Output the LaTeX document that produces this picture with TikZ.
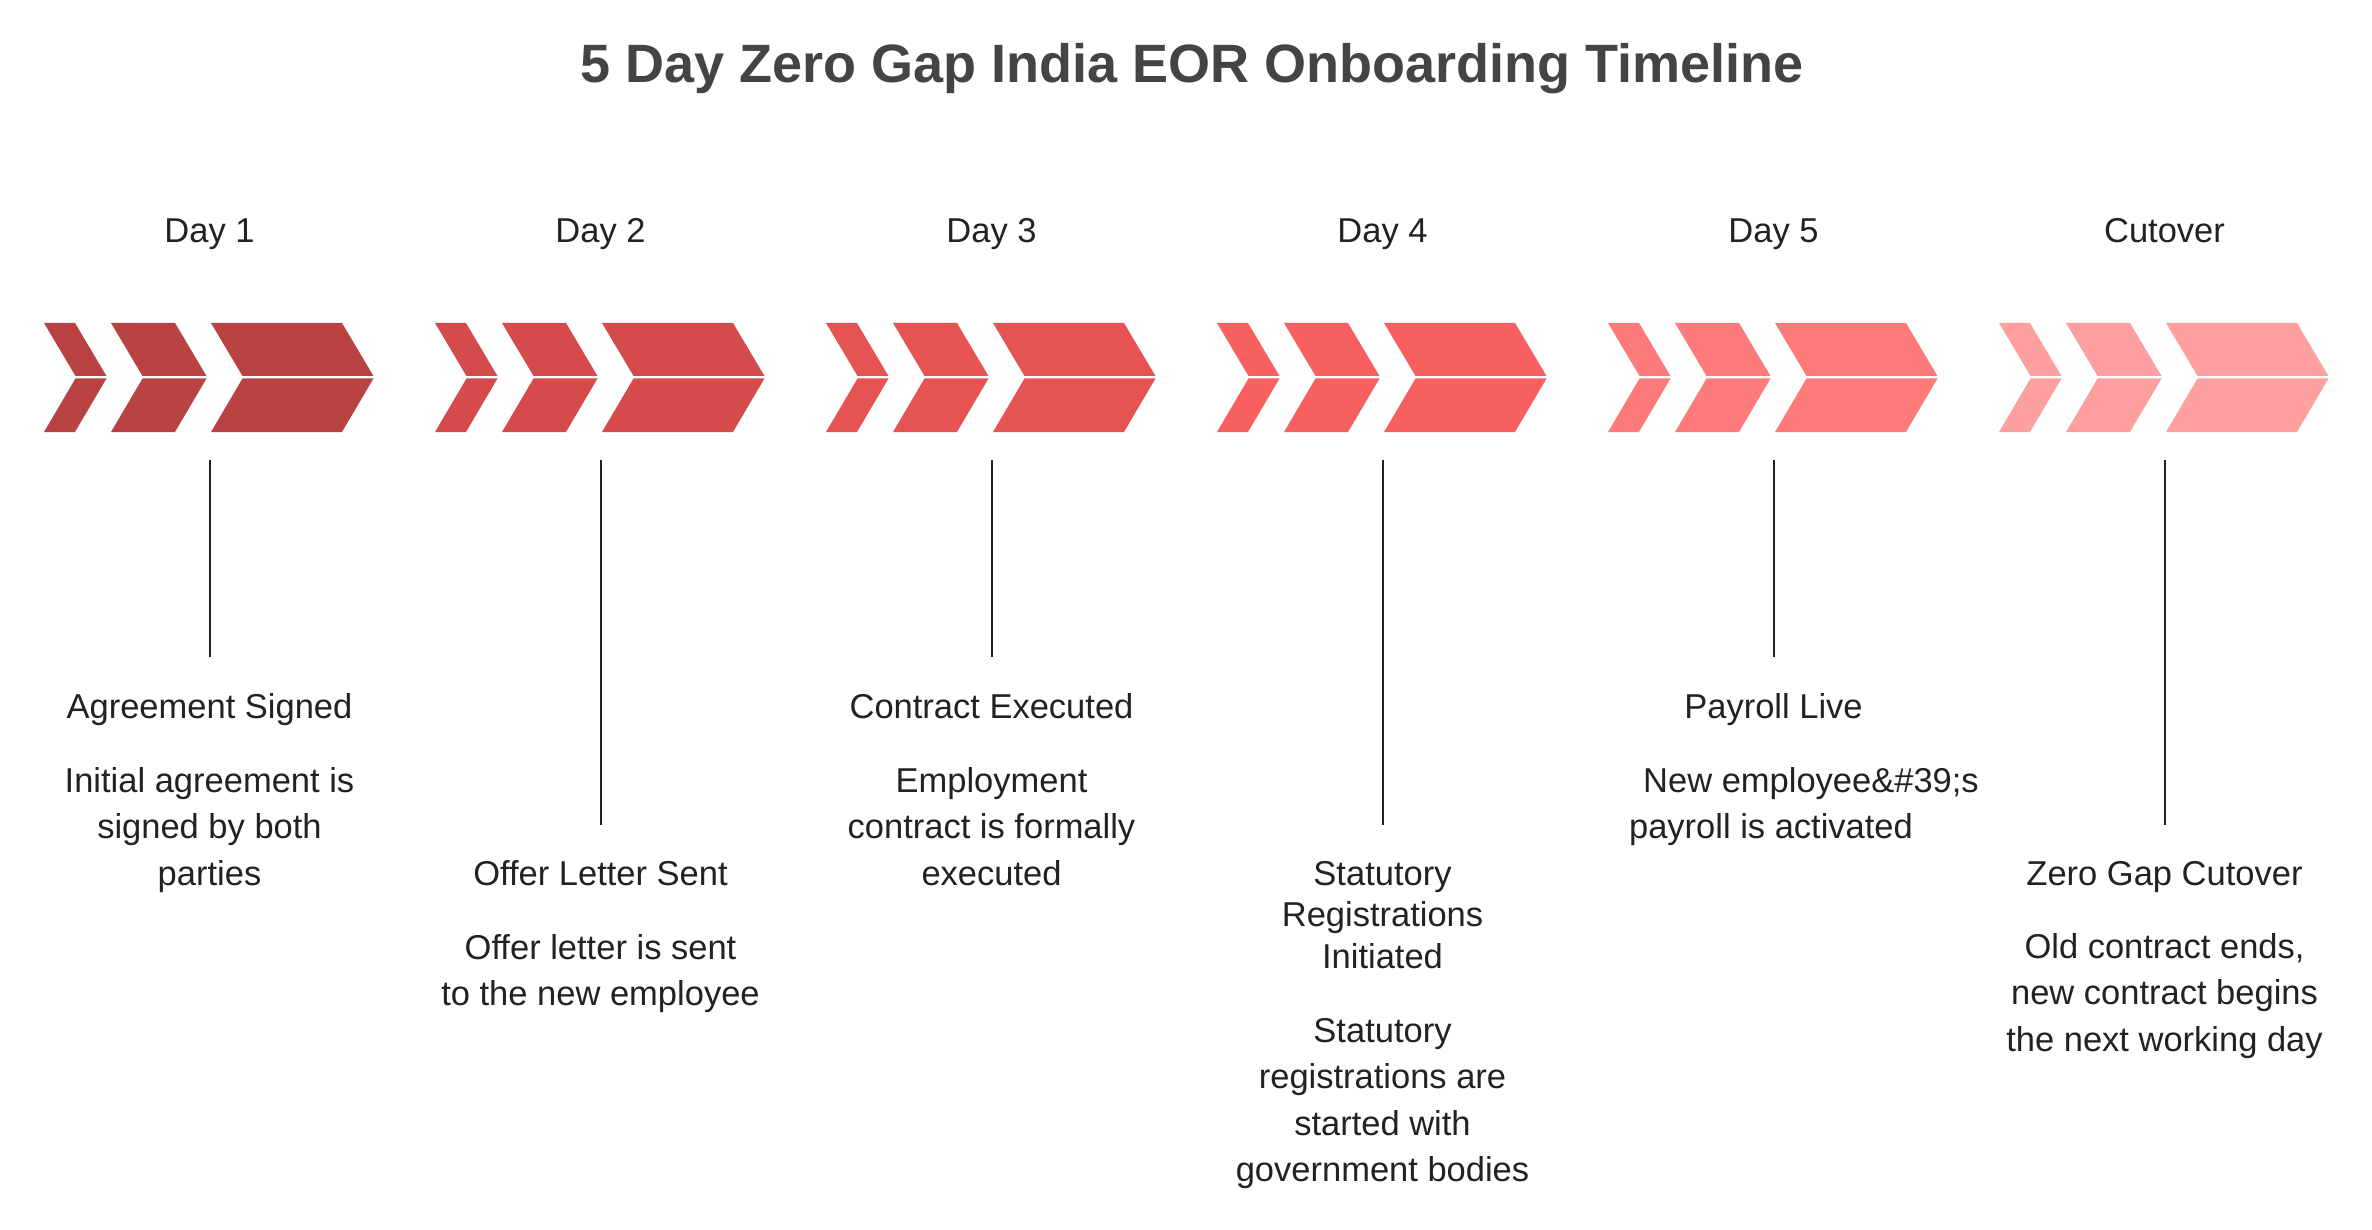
\documentclass[tikz,border=0pt]{standalone}
\usepackage{fontspec}
\setmainfont{Liberation Sans}
\definecolor{cA}{HTML}{B94343}
\definecolor{cB}{HTML}{D54B4B}
\definecolor{cC}{HTML}{E55353}
\definecolor{cD}{HTML}{F85F5F}
\definecolor{cE}{HTML}{FF7A7A}
\definecolor{cF}{HTML}{FFA0A0}
\definecolor{txt}{HTML}{222222}
\definecolor{ttl}{HTML}{444444}
\newcommand{\chevpiece}[3]{%
  \fill[#3] ({#1},323) -- ({#1+#2},323) -- ({#1+#2+31.5},376) -- ({#1+31.5},376) -- cycle;
  \fill[#3] ({#1+31.5},378.5) -- ({#1+#2+31.5},378.5) -- ({#1+#2},432) -- ({#1},432) -- cycle;}
\newcommand{\chevgroup}[2]{%
  \chevpiece{#1}{31}{#2}\chevpiece{#1+67}{64}{#2}\chevpiece{#1+167}{131}{#2}}
\begin{document}
\begin{tikzpicture}[x=1pt,y=-1pt,
  txtline/.style={anchor=base,text=txt,inner sep=0pt,font=\fontsize{34.5}{41.5}\selectfont},
  stem/.style={draw=txt,line width=2pt}]
\useasboundingbox (0,0) rectangle (2372,1230);
\fill[white] (0,0) rectangle (2372,1230);

\node[anchor=base,text=ttl,inner sep=0pt,font=\fontsize{54}{60}\selectfont\bfseries] (title) at (1192,83) {5 Day Zero Gap India EOR Onboarding Timeline};

% chevrons
\chevgroup{44}{cA}
\chevgroup{435}{cB}
\chevgroup{826}{cC}
\chevgroup{1217}{cD}
\chevgroup{1608}{cE}
\chevgroup{1999}{cF}

% day labels
\node[txtline] (d1) at (209.5,243) {Day 1};
\node[txtline] (d2) at (600.5,243) {Day 2};
\node[txtline] (d3) at (991.5,243) {Day 3};
\node[txtline] (d4) at (1382.5,243) {Day 4};
\node[txtline] (d5) at (1773.5,243) {Day 5};
\node[txtline] (d6) at (2164.5,243) {Cutover};

% stems
\coordinate (l1a) at (209.5,460);  \coordinate (l1b) at (209.5,657);
\coordinate (l2a) at (600.5,460);  \coordinate (l2b) at (600.5,825);
\coordinate (l3a) at (991.5,460);  \coordinate (l3b) at (991.5,657);
\coordinate (l4a) at (1382.5,460); \coordinate (l4b) at (1382.5,825);
\coordinate (l5a) at (1773.5,460); \coordinate (l5b) at (1773.5,657);
\coordinate (l6a) at (2164.5,460); \coordinate (l6b) at (2164.5,825);
\draw[stem] (l1a) -- (l1b);
\draw[stem] (l2a) -- (l2b);
\draw[stem] (l3a) -- (l3b);
\draw[stem] (l4a) -- (l4b);
\draw[stem] (l5a) -- (l5b);
\draw[stem] (l6a) -- (l6b);

% event titles
\node[txtline] (t1) at (209.5,718) {Agreement Signed};
\node[txtline] (t2) at (600.5,885) {Offer Letter Sent};
\node[txtline] (t3) at (991.5,718) {Contract Executed};
\node[txtline] (t4a) at (1382.5,885) {Statutory};
\node[txtline] (t4b) at (1382.5,926.5) {Registrations};
\node[txtline] (t4c) at (1382.5,968) {Initiated};
\node[txtline] (t5) at (1773.5,718) {Payroll Live};
\node[txtline] (t6) at (2164.5,885) {Zero Gap Cutover};

% descriptions
\node[txtline] (s1a) at (209.5,792) {Initial agreement is};
\node[txtline] (s1b) at (209.5,838.5) {signed by both};
\node[txtline] (s1c) at (209.5,885) {parties};
\node[txtline] (s2a) at (600.5,959) {Offer letter is sent};
\node[txtline] (s2b) at (600.5,1005.5) {to the new employee};
\node[txtline] (s3a) at (991.5,792) {Employment};
\node[txtline] (s3b) at (991.5,838.5) {contract is formally};
\node[txtline] (s3c) at (991.5,885) {executed};
\node[txtline] (s4a) at (1382.5,1042) {Statutory};
\node[txtline] (s4b) at (1382.5,1088.5) {registrations are};
\node[txtline] (s4c) at (1382.5,1135) {started with};
\node[txtline] (s4d) at (1382.5,1181.5) {government bodies};
\node[txtline] (s5a) at (1811,792) {New employee\&\#39;s};
\node[txtline] (s5b) at (1771,838.5) {payroll is activated};
\node[txtline] (s6a) at (2164.5,958) {Old contract ends,};
\node[txtline] (s6b) at (2164.5,1004.5) {new contract begins};
\node[txtline] (s6c) at (2164.5,1051) {the next working day};
\end{tikzpicture}
\end{document}
